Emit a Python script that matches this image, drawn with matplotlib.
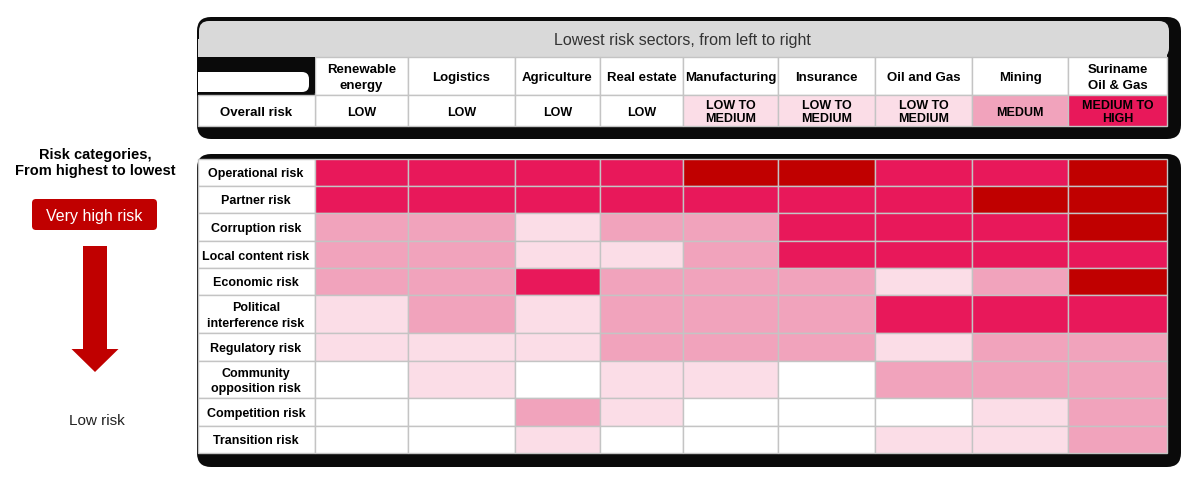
import matplotlib
matplotlib.use("Agg")
import matplotlib.pyplot as plt
from matplotlib.patches import Rectangle, FancyBboxPatch, FancyArrow

plt.rcParams['font.family'] = ['Liberation Sans', 'DejaVu Sans']

# data
sectors = ["Renewable\nenergy", "Logistics", "Agriculture", "Real estate", "Manufacturing",
           "Insurance", "Oil and Gas", "Mining", "Suriname\nOil & Gas"]
overall_text = ["LOW", "LOW", "LOW", "LOW", "LOW TO\nMEDIUM", "LOW TO\nMEDIUM",
                "LOW TO\nMEDIUM", "MEDUM", "MEDIUM TO\nHIGH"]
overall_level = [0, 0, 0, 0, 1, 1, 1, 2, 3]
risks = ["Operational risk", "Partner risk", "Corruption risk", "Local content risk",
         "Economic risk", "Political\ninterference risk", "Regulatory risk",
         "Community\nopposition risk", "Competition risk", "Transition risk"]
# 0 = none, 1 = low, 2 = medium, 3 = high, 4 = very high
levels = [
    [3, 3, 3, 3, 4, 4, 3, 3, 4],
    [3, 3, 3, 3, 3, 3, 3, 4, 4],
    [2, 2, 1, 2, 2, 3, 3, 3, 4],
    [2, 2, 1, 1, 2, 3, 3, 3, 3],
    [2, 2, 3, 2, 2, 2, 1, 2, 4],
    [1, 2, 1, 2, 2, 2, 3, 3, 3],
    [1, 1, 1, 2, 2, 2, 1, 2, 2],
    [0, 1, 0, 1, 1, 0, 2, 2, 2],
    [0, 0, 2, 1, 0, 0, 0, 1, 2],
    [0, 0, 1, 0, 0, 0, 1, 1, 2],
]

palette = ["#FFFFFF", "#FBDDE7", "#F1A3BC", "#E8185A", "#C00000"]
grid_c = "#C4C4C4"

# layout (pixels)
col_edges = [198, 315, 408, 515, 600, 683, 778, 875, 972, 1068, 1167]
row_edges = [160, 187, 214, 242, 269, 296, 334, 362, 399, 427, 454]

fig = plt.figure(figsize=(12, 4.89), dpi=100)
ax = fig.add_axes([0, 0, 1, 1])
ax.set_xlim(0, 1200)
ax.set_ylim(489, 0)
ax.axis("off")

# ---- top table ----
ax.add_patch(FancyBboxPatch((206, 27), 966, 104, boxstyle="round,pad=9,rounding_size=14",
                            fc="#0A0A0A", ec="none", zorder=1))
ax.add_patch(FancyBboxPatch((204, 27), 960, 27, boxstyle="round,pad=5,rounding_size=10",
                            fc="#D9D9D9", ec="none", zorder=2))
ax.add_patch(Rectangle((198, 40), 969, 18, fc="#D9D9D9", ec="none", zorder=2))
ax.text(682, 41, "Lowest risk sectors, from left to right", ha="center", va="center",
        fontsize=11.5, color="#333333", zorder=5)

# header row + overall row
hdr_top, hdr_bot, ov_bot = 58, 96, 127
for i, name in enumerate(sectors):
    x0, x1 = col_edges[i + 1], col_edges[i + 2]
    ax.add_patch(Rectangle((x0, hdr_top), x1 - x0, hdr_bot - hdr_top, fc="white",
                           ec=grid_c, lw=1, zorder=3))
    ax.text((x0 + x1) / 2, (hdr_top + hdr_bot) / 2 + 1, name, ha="center", va="center",
            fontsize=9.5, fontweight="bold", linespacing=1.4, zorder=5)
    ax.add_patch(Rectangle((x0, hdr_bot), x1 - x0, ov_bot - hdr_bot,
                           fc=palette[overall_level[i]], ec=grid_c, lw=1, zorder=3))
    ax.text((x0 + x1) / 2, (hdr_bot + ov_bot) / 2 + 1, overall_text[i], ha="center",
            va="center", fontsize=9, fontweight="bold", linespacing=1.2, zorder=5)

# top-left header corner
ax.add_patch(Rectangle((198, hdr_top), 117, 36, fc="#0A0A0A", ec="none", zorder=3))
ax.add_patch(FancyBboxPatch((202, 77), 103, 12, boxstyle="round,pad=4,rounding_size=7",
                            fc="white", ec="none", zorder=4))
ax.add_patch(Rectangle((198, 73), 12, 20, fc="white", ec="none", zorder=4))
ax.add_patch(Rectangle((198, hdr_bot), 117, ov_bot - hdr_bot, fc="white", ec=grid_c,
                       lw=1, zorder=3))
ax.text(256, (hdr_bot + ov_bot) / 2 + 1, "Overall risk", ha="center", va="center",
        fontsize=9.5, fontweight="bold", zorder=5)

# ---- bottom table ----
ax.add_patch(FancyBboxPatch((206, 164), 966, 295, boxstyle="round,pad=9,rounding_size=14",
                            fc="#0A0A0A", ec="none", zorder=1))
for r, risk in enumerate(risks):
    y0, y1 = row_edges[r], row_edges[r + 1]
    ax.add_patch(Rectangle((col_edges[0], y0), col_edges[1] - col_edges[0], y1 - y0,
                           fc="white", ec=grid_c, lw=1, zorder=3))
    ax.text(256, (y0 + y1) / 2 + 1, risk, ha="center", va="center", fontsize=9,
            fontweight="bold", linespacing=1.4, zorder=5)
    for c in range(len(sectors)):
        x0, x1 = col_edges[c + 1], col_edges[c + 2]
        ax.add_patch(Rectangle((x0, y0), x1 - x0, y1 - y0, fc=palette[levels[r][c]],
                               ec=grid_c, lw=1, zorder=3))

# ---- left legend ----
ax.text(95, 163, "Risk categories,\nFrom highest to lowest", ha="center", va="center",
        fontsize=10.5, fontweight="bold", linespacing=1.25)
ax.add_patch(FancyBboxPatch((35, 203), 119, 25, boxstyle="round,pad=3,rounding_size=4",
                            fc="#C00000", ec="none"))
ax.text(94, 216, "Very high risk", ha="center", va="center", fontsize=11.5, color="white")
ax.add_patch(FancyArrow(95, 247, 0, 126, width=24, head_width=47, head_length=23,
                        length_includes_head=True, fc="#C00000", ec="none"))
ax.text(97, 421, "Low risk", ha="center", va="center", fontsize=11, color="#222222")

fig.savefig("out.png", dpi=100)
